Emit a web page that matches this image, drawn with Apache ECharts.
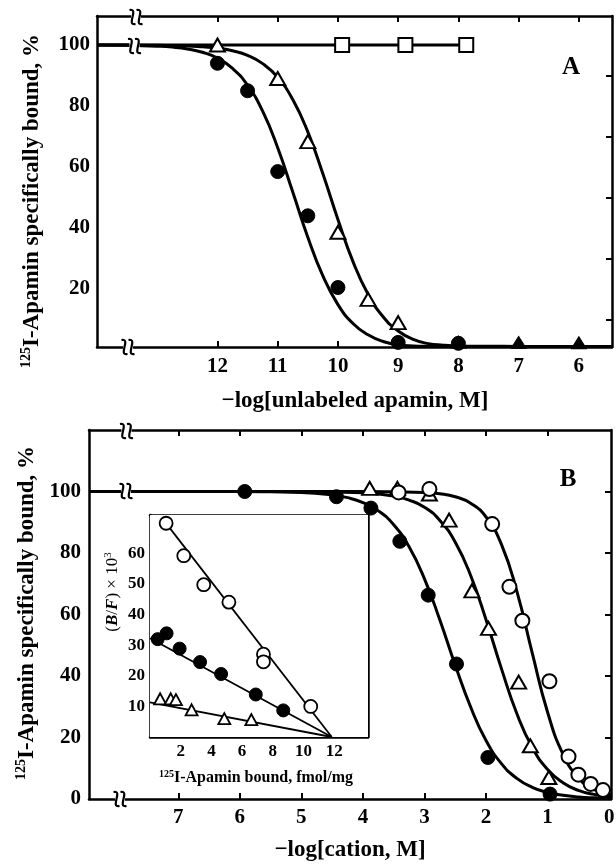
<!DOCTYPE html>
<html>
<head>
<meta charset="utf-8">
<script src="https://cdn.jsdelivr.net/npm/echarts@6/dist/echarts.min.js"></script>
<style>
html,body{margin:0;padding:0;background:#fff;}
#c{width:616px;height:864px;}
</style>
</head>
<body>
<div id="c"></div>
<script>
// ---------- Panel A : -log[unlabeled apamin, M] ----------
const aTicks = [12, 11, 10, 9, 8, 7, 6];
const aYLabels = [20, 40, 60, 80, 100];
const aYRightTicks = [10, 30, 50, 70, 90];
const aCircX = [12, 11.5, 11, 10.5, 10, 9, 8];
const aCircY = [94, 85, 58.5, 44, 20.5, 2.5, 2.2];
const aTriX = [12, 11, 10.5, 10, 9.5, 9];
const aTriY = [100, 89, 68.3, 38.6, 16.6, 9];
const aTriLowX = [8, 7, 6];
const aTriLowY = [2.6, 2.5, 2.4];
const aSqX = [9.93, 8.88, 7.87];
const aSqY = [100, 100, 100];
const aSqLine = [[14, 100], [7.87, 100]];
const aCircFit = [[14,100],[13.5,99.9],[13.0,99.6],[12.75,99.3],[12.5,98.7],[12.25,97.6],[12.0,95.7],[11.75,92.3],[11.5,86.8],[11.25,78.3],[11.0,66.3],[10.75,51.8],[10.5,37.0],[10.25,24.3],[10.0,14.9],[9.75,8.7],[9.5,5.0],[9.25,2.8],[9.0,1.7],[8.75,1.35],[8.5,1.25],[8.0,1.2],[7.0,1.2],[5.45,1.2]];
const aTriFit = [[14,100],[13.5,100],[13.0,99.9],[12.5,99.7],[12.25,99.4],[12.0,99.0],[11.75,98.1],[11.5,96.6],[11.25,93.9],[11.0,89.4],[10.75,82.1],[10.5,71.5],[10.25,57.8],[10.0,42.8],[9.75,29.0],[9.5,18.3],[9.25,10.9],[9.0,6.25],[8.75,3.5],[8.5,2.1],[8.25,1.6],[8.0,1.35],[7.5,1.25],[7.0,1.2],[5.45,1.2]];

// ---------- Panel B : -log[cation, M] ----------
const bTicks = [7, 6, 5, 4, 3, 2, 1, 0];
const bYLabels = [0, 20, 40, 60, 80, 100];
const bYRightTicks = [20, 40, 60, 80, 100];
const bCircX = [5.92, 4.43, 3.87, 3.4, 2.94, 2.48, 1.97, 0.96];
const bCircY = [100, 98.3, 94.6, 83.8, 66.3, 43.9, 13.5, 1.6];
const bTriX = [3.89, 3.44, 2.92, 2.6, 2.23, 1.96, 1.47, 1.28, 0.98];
const bTriY = [101, 101, 99.2, 90.7, 67.7, 55.5, 38, 17.3, 7];
const bOpenX = [3.42, 2.92, 1.9, 1.62, 1.41, 0.97, 0.66, 0.5, 0.3, 0.1];
const bOpenY = [99.7, 100.8, 89.4, 69, 58, 38.3, 13.8, 7.9, 4.9, 2.9];
const bCircFit = [[8.45,100],[7.0,100],[6.0,100],[5.5,99.9],[5.0,99.7],[4.5,98.9],[4.25,98.0],[4.0,96.4],[3.75,93.7],[3.5,89.2],[3.25,82.0],[3.0,71.6],[2.75,58.2],[2.5,43.5],[2.25,29.9],[2.0,19.0],[1.75,11.5],[1.5,6.7],[1.25,3.8],[1.0,2.15],[0.75,1.2],[0.5,0.65],[0.25,0.37],[-0.03,0.2]];
const bTriFit = [[8.45,100],[7.0,100],[6.0,100],[5.0,100],[4.5,99.8],[4.0,99.6],[3.75,99.2],[3.5,98.5],[3.25,97.2],[3.0,94.9],[2.75,90.6],[2.5,83.5],[2.25,72.7],[2.0,58.3],[1.75,42.4],[1.5,27.8],[1.25,16.8],[1.0,9.6],[0.75,5.3],[0.5,2.8],[0.25,1.5],[-0.03,0.8]];
const bOpenFit = [[8.45,100],[7.0,100],[6.0,100],[5.0,100],[4.0,100],[3.5,99.9],[3.0,99.7],[2.75,99.3],[2.5,98.3],[2.25,96.2],[2.0,91.7],[1.75,82.8],[1.5,67.6],[1.25,47.5],[1.0,28.2],[0.75,14.6],[0.5,6.9],[0.25,3.1],[-0.03,1.3]];

// ---------- Inset : Scatchard plot ----------
const iXTicks = [2, 4, 6, 8, 10, 12];
const iYTicks = [10, 20, 30, 40, 50, 60];
const iOpenX = [1.05, 2.2, 3.5, 5.14, 7.39, 7.39, 10.47];
const iOpenY = [69.9, 59.3, 49.8, 44.1, 27.1, 24.6, 10];
const iFillX = [0.5, 1.08, 1.93, 3.26, 4.63, 6.89, 8.68];
const iFillY = [32, 33.9, 28.9, 24.5, 20.6, 13.9, 8.7];
const iTriX = [0.66, 1.35, 1.69, 2.71, 4.84, 6.6];
const iTriY = [12.5, 12.5, 12.2, 8.9, 6, 5.7];
const iOpenLine = [[1.0, 70.2], [11.84, 0]];
const iFillLine = [[0, 32.3], [11.84, 0]];
const iTriLine = [[0, 11.3], [11.84, 0]];

// ---------- helpers ----------
const FONT = 'Liberation Serif';
const zip = (xs, ys) => xs.map((x, i) => [x, ys[i]]);

function ax(grid, min, max, inverse, pos, ticks, labels, fs, margin) {
  return {
    type: 'value', gridIndex: grid, min: min, max: max, inverse: inverse, position: pos,
    axisLine: {show: true, onZero: false, lineStyle: {color: '#000', width: 2.5}},
    axisTick: ticks ? {show: true, inside: true, length: 6, customValues: ticks, lineStyle: {color: '#000', width: 2}} : {show: false},
    axisLabel: labels ? {show: true, customValues: labels, margin: margin, color: '#000',
      fontFamily: FONT, fontWeight: 'bold', fontSize: fs, hideOverlap: false} : {show: false},
    splitLine: {show: false}
  };
}
function curve(xi, yi, data, w) {
  return {type: 'line', xAxisIndex: xi, yAxisIndex: yi, data: data, smooth: 0.5,
    symbol: 'none', lineStyle: {color: '#000', width: w, join: 'round'}, z: 2, silent: true};
}
function pts(xi, yi, data, symbol, size, filled, bw, z) {
  return {type: 'scatter', xAxisIndex: xi, yAxisIndex: yi, data: data, symbol: symbol, symbolSize: size,
    itemStyle: {color: filled ? '#000' : '#fff', borderColor: '#000', borderWidth: bw, opacity: 1}, z: z || 4, silent: true};
}
function squig(dx) {
  return {type: 'bezierCurve', z: 101,
    shape: {x1: dx - 3, y1: -7, cpx1: dx + 7, cpy1: -9, cpx2: dx - 7, cpy2: 9, x2: dx + 3, y2: 7},
    style: {stroke: '#000', lineWidth: 2.2, fill: null}};
}
function brk(cx, cy) {
  return {type: 'group', x: cx, y: cy, children: [
    {type: 'rect', z: 100, shape: {x: -5, y: -4, width: 10, height: 8}, style: {fill: '#fff'}},
    squig(-3.5), squig(3.5)
  ]};
}
function vtext(x, y, text, rich, fs) {
  return {type: 'text', x: x, y: y, rotation: Math.PI / 2, z: 100,
    style: {text: text, rich: rich, align: 'center', verticalAlign: 'middle', fill: '#000',
      fontFamily: FONT, fontWeight: 'bold', fontSize: fs}};
}
function htext(x, y, text, rich, fs, weight) {
  return {type: 'text', x: x, y: y, z: 100,
    style: {text: text, rich: rich, align: 'center', verticalAlign: 'middle', fill: '#000',
      fontFamily: FONT, fontWeight: weight || 'bold', fontSize: fs}};
}
const supRich = (fs, lh) => ({s: {fontSize: fs, fontFamily: FONT, fontWeight: 'bold', verticalAlign: 'top', lineHeight: lh, fill: '#000'}});
const G = {containLabel: false, outerBoundsMode: 'none'};

const chart = echarts.init(document.getElementById('c'), null, {renderer: 'canvas'});
chart.setOption({
  animation: false,
  backgroundColor: '#fff',
  grid: [
    Object.assign({left: 97, top: 16, width: 515, height: 331}, G),
    Object.assign({left: 89, top: 430, width: 522, height: 369}, G),
    Object.assign({left: 150, top: 515, width: 218, height: 222}, G)
  ],
  xAxis: [
    ax(0, 5.45, 14, true, 'bottom', aTicks, aTicks, 21, 9),
    ax(0, 5.45, 14, true, 'top', aTicks, null),
    ax(1, -0.03, 8.45, true, 'bottom', bTicks, bTicks, 21, 8),
    ax(1, -0.03, 8.45, true, 'top', [7, 6, 5, 4, 3, 2, 1], null),
    ax(2, 0, 14.2, false, 'bottom', null, iXTicks, 17, 6),
    ax(2, 0, 14.2, false, 'top', iXTicks, null)
  ],
  yAxis: [
    ax(0, 1, 109.5, false, 'left', null, aYLabels, 21, 7),
    ax(0, 1, 109.5, false, 'right', aYRightTicks, null),
    ax(1, 0, 120, false, 'left', null, bYLabels, 21, 8),
    ax(1, 0, 120, false, 'right', bYRightTicks, null),
    ax(2, 0, 72.6, false, 'left', null, iYTicks, 17, 5),
    ax(2, 0, 72.6, false, 'right', iYTicks, null)
  ],
  series: [
    // Panel A
    curve(0, 0, aSqLine, 3),
    curve(0, 0, aCircFit, 3),
    curve(0, 0, aTriFit, 3),
    pts(0, 0, zip(aSqX, aSqY), 'rect', 14, false, 2),
    pts(0, 0, zip(aCircX, aCircY), 'circle', 14, true, 1),
    pts(0, 0, zip(aTriX, aTriY), 'triangle', [15, 13], false, 2),
    pts(0, 0, zip(aTriLowX, aTriLowY), 'triangle', [15, 12], true, 1),
    // Panel B
    curve(2, 2, bCircFit, 3),
    curve(2, 2, bTriFit, 3),
    curve(2, 2, bOpenFit, 3),
    pts(2, 2, zip(bCircX, bCircY), 'circle', 14, true, 1, 8),
    pts(2, 2, zip(bTriX, bTriY), 'triangle', [15, 13], false, 2),
    pts(2, 2, zip(bOpenX, bOpenY), 'circle', 14, false, 2),
    // Inset (white background)
    {type: 'line', xAxisIndex: 4, yAxisIndex: 4, data: [[0, 72.6], [14.2, 72.6]], symbol: 'none',
      lineStyle: {width: 0, opacity: 0}, areaStyle: {color: '#fff', opacity: 1, origin: 'start'}, z: 5, silent: true},
    {type: 'line', xAxisIndex: 4, yAxisIndex: 4, data: iOpenLine, symbol: 'none', lineStyle: {color: '#000', width: 1.8}, z: 6, silent: true},
    {type: 'line', xAxisIndex: 4, yAxisIndex: 4, data: iFillLine, symbol: 'none', lineStyle: {color: '#000', width: 1.8}, z: 6, silent: true},
    {type: 'line', xAxisIndex: 4, yAxisIndex: 4, data: iTriLine, symbol: 'none', lineStyle: {color: '#000', width: 1.8}, z: 6, silent: true},
    pts(4, 4, zip(iOpenX, iOpenY), 'circle', 13, false, 1.8, 7),
    pts(4, 4, zip(iFillX, iFillY), 'circle', 13, true, 1, 7),
    pts(4, 4, zip(iTriX, iTriY), 'triangle', [12, 11], false, 1.8, 7)
  ],
  graphic: [
    brk(136, 17), brk(134.5, 46), brk(128, 347),
    brk(126.5, 431), brk(126, 491), brk(120, 799),
    vtext(32, 201, '{s|125}I-Apamin specifically bound, %', supRich(14, 26), 23),
    vtext(27, 613, '{s|125}I-Apamin specifically bound, %', supRich(14, 26), 23),
    htext(355, 401, '\u2212log[unlabeled apamin, M]', null, 23),
    htext(350, 850, '\u2212log[cation, M]', null, 23),
    htext(571, 68, 'A', null, 25),
    htext(568, 480, 'B', null, 25),
    htext(256, 778, '{s|125}I-Apamin bound, fmol/mg', {s: {fontSize: 10, fontFamily: FONT, fontWeight: 'bold', verticalAlign: 'top', lineHeight: 18, fill: '#000'}}, 16),
    {type: 'text', x: 113, y: 592, rotation: Math.PI / 2, z: 100,
      style: {text: '({i|B}/{i|F}) \u00d7 10{s|3}', align: 'center', verticalAlign: 'middle', fill: '#000',
        fontFamily: FONT, fontSize: 17,
        rich: {i: {fontStyle: 'italic', fontWeight: 'bold', fontFamily: FONT, fontSize: 17, fill: '#000'},
               s: {fontSize: 11, fontFamily: FONT, verticalAlign: 'top', lineHeight: 20, fill: '#000'}}}}
  ]
});
</script>
</body>
</html>
